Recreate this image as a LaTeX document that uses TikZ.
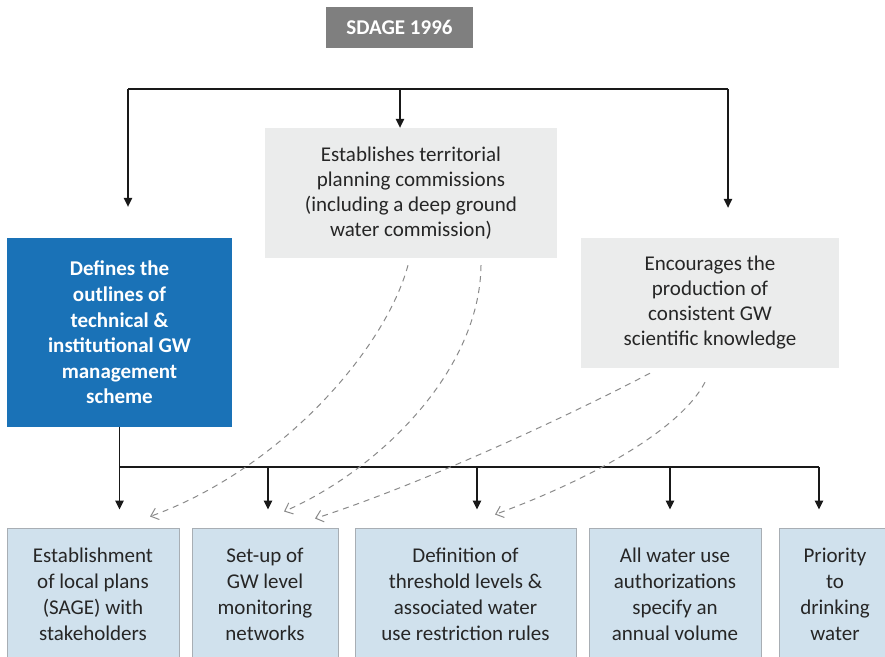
\documentclass[tikz,border=0pt]{standalone}
\usepackage{fontspec}
\setmainfont{Carlito}
\usetikzlibrary{arrows.meta,calc}

\definecolor{sdgray}{RGB}{127,127,127}
\definecolor{defblue}{RGB}{26,114,183}
\definecolor{boxgray}{RGB}{235,236,236}
\definecolor{boxblue}{RGB}{208,225,237}
\definecolor{edgegray}{RGB}{168,174,180}
\definecolor{dashgray}{RGB}{138,138,138}
\definecolor{txtgray}{RGB}{38,38,38}

\tikzset{
  headbox/.style={fill=sdgray, text=white, inner sep=0pt, font=\bfseries\fontsize{21}{24}\selectfont},
  greybox/.style={fill=boxgray, text=txtgray, align=center, inner sep=0pt, font=\fontsize{21}{25}\selectfont},
  bluebox/.style={fill=defblue, text=white, align=center, inner sep=0pt, font=\bfseries\fontsize{21}{25.6}\selectfont},
  planbox/.style={fill=boxblue, draw=edgegray, line width=1pt, text=txtgray, align=center, inner sep=0pt, font=\fontsize{21}{26}\selectfont},
  bus/.style={line width=1.2pt, black!90},
  solidarrow/.style={bus, -{Triangle[length=9pt,width=8.5pt]}},
  dasharrow/.style={dashgray, line width=1pt, dash pattern=on 6pt off 5pt, -{Straight Barb[length=7pt,width=12pt]}}
}

\begin{document}
\begin{tikzpicture}[x=1pt,y=1pt,yscale=-1]
\useasboundingbox (0,0) rectangle (885,656);
\clip (0,0) rectangle (885,656);

% Text Node
\node [headbox, minimum width=147pt, minimum height=41pt] (sdage) at (399.5,27.5) {SDAGE 1996};

%Shape: Rectangle
\node [greybox, minimum width=292pt, minimum height=130pt] (comm) at (411,193) {Establishes territorial\\planning commissions\\(including a deep ground\\water commission)};
%Shape: Rectangle
\node [bluebox, minimum width=225pt, minimum height=189pt] (defines) at (119.5,332.5) {Defines the\\outlines of\\technical \&\\institutional GW\\management\\scheme};
%Shape: Rectangle
\node [greybox, minimum width=258pt, minimum height=130pt] (enc) at (710,303) {Encourages the\\production of\\consistent GW\\scientific knowledge};

%Shape: Rectangle
\node [planbox, minimum width=172pt, minimum height=132pt] (plan) at (93,594) {Establishment\\of local plans\\(SAGE) with\\stakeholders};
\node [planbox, minimum width=146pt, minimum height=132pt] (net) at (265,594) {Set-up of\\GW level\\monitoring\\networks};
\node [planbox, minimum width=221pt, minimum height=132pt] (rule) at (465.5,594) {Definition of\\threshold levels \&\\associated water\\use restriction rules};
\node [planbox, minimum width=172pt, minimum height=132pt] (auth) at (675,594) {All water use\\authorizations\\specify an\\annual volume};
\node [planbox, minimum width=112pt, minimum height=132pt] (drink) at (835,594) {Priority\\to\\drinking\\water};

%Straight Lines
\coordinate (busL) at (128,89);
\coordinate (busM) at (400,89);
\coordinate (busR) at (728,89);
\draw [bus] (busL) -- (busR);
\draw [solidarrow, shorten >=31pt] (busL) -- (defines.north -| busL);
\draw [solidarrow] (busM) -- (comm.north -| busM);
\draw [solidarrow, shorten >=30pt] (busR) -- (enc.north -| busR);

%Straight Lines
\coordinate (knee) at (119.5,467);
\coordinate (busend) at (819,467);
\draw [bus] (defines.south) -- (knee) -- (busend);
\foreach \x/\b in {119.5/plan,268/net,477/rule,670/auth,819/drink}
  \draw [solidarrow, shorten >=18pt] (\x,467) -- (\b.north -| \x,0);

%Curve Lines
\draw [dasharrow] ($(comm.south)+(-3,7)$) .. controls +(-23,85) and +(130,-47) .. ($(plan.north)+(57,-11)$);
\draw [dasharrow] ($(comm.south)+(70,7)$) .. controls +(-1,105) and +(96,-42) .. ($(net.north)+(19,-16)$);
\draw [dasharrow] ($(enc.south)+(-60,5)$) .. controls +(-90,47) and +(105,-34) .. ($(net.north)+(50,-9)$);
\draw [dasharrow] ($(enc.south)+(-5,14)$) .. controls +(-25,48) and +(95,-35) .. ($(rule.north)+(29.5,-13)$);

\end{tikzpicture}
\end{document}
